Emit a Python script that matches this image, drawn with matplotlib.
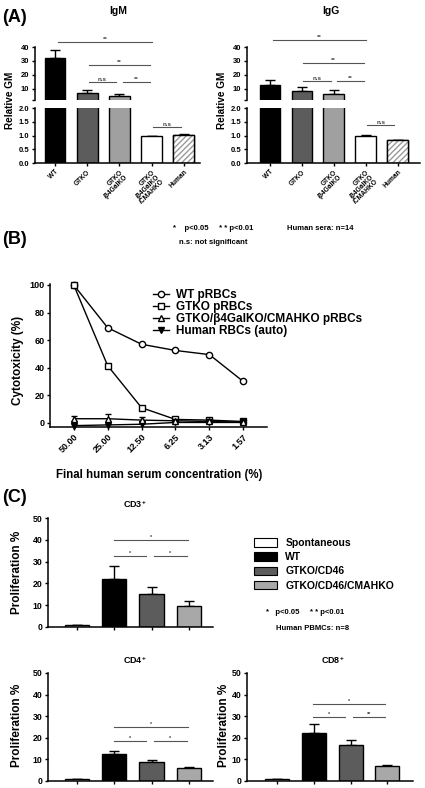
import matplotlib
matplotlib.use('Agg')
import matplotlib.pyplot as plt
from matplotlib.patches import Patch
from matplotlib.lines import Line2D
import numpy as np

plt.rcParams['font.family'] = ['Liberation Sans', 'DejaVu Sans']
plt.rcParams['font.weight'] = 'bold'
plt.rcParams['mathtext.default'] = 'regular'
plt.rcParams['axes.linewidth'] = 1.1
plt.rcParams['xtick.major.width'] = 1.0
plt.rcParams['ytick.major.width'] = 1.0
plt.rcParams['xtick.major.size'] = 2.5
plt.rcParams['ytick.major.size'] = 2.5

# ---- data ----
# panel A
groups_a = ['WT', 'GTKO', 'GTKO\n/β4GalKO', 'GTKO\n/β4GalKO\n/CMAHKO', 'Human']
igm_mean = [32, 7, 5, 0.97, 1.02]
igm_err = [6, 2, 1.2, 0.02, 0.02]
igg_mean = [13, 8.5, 6.5, 1.0, 0.83]
igg_err = [3.2, 3, 2.5, 0.02, 0.02]

# panel B
conc_labels = ['50.00', '25.00', '12.50', '6.25', '3.13', '1.57']
wt_cyto = [100, 69, 57, 52.5, 49.5, 30]
gtko_cyto = [100, 41.5, 11, 2.5, 2, 1]
tko_cyto = [3, 3, 2, 1.5, 1, 0.5]
tko_err = [2, 3.5, 2, 0.8, 0.5, 0.5]
human_cyto = [-2, -1.5, -1, 0.3, 0.3, 0.3]

# panel C
groups_c = ['Spontaneous', 'WT', 'GTKO/CD46', 'GTKO/CD46/CMAHKO']
cd3_mean = [0.8, 22, 15, 9.5]
cd3_err = [0.2, 6, 3.5, 2.5]
cd4_mean = [0.7, 12.3, 8.7, 5.8]
cd4_err = [0.1, 1.7, 1.2, 0.5]
cd8_mean = [0.7, 22, 16.8, 6.8]
cd8_err = [0.1, 4.5, 2.2, 0.8]

W, H = 425, 788


def box(x0, y0, x1, y1):
    return [x0 / W, 1 - y1 / H, (x1 - x0) / W, (y1 - y0) / H]


def style(ax, ls=6):
    ax.spines['top'].set_visible(False)
    ax.spines['right'].set_visible(False)
    ax.tick_params(labelsize=ls, pad=1.5)


def sig(ax, x0, x1, y, txt, fs=4.5):
    ax.plot([x0, x1], [y, y], color='#555555', lw=0.8, clip_on=False)
    ax.text((x0 + x1) / 2, y, txt, ha='center', va='bottom', fontsize=fs,
            color='#444444', clip_on=False)


def bars(ax, x, means, errs, faces, hatch_idx=None, keep=None):
    x = np.asarray(x)
    means = np.asarray(means)
    errs = np.asarray(errs)
    faces = np.asarray(faces)
    if keep is None:
        keep = np.ones(len(x), bool)
    ax.bar(x[keep], means[keep], 0.65, color=faces[keep], edgecolor='black', lw=1, zorder=2)
    if hatch_idx is not None and keep[hatch_idx]:
        ax.bar(x[hatch_idx], means[hatch_idx], 0.65, facecolor='white',
               edgecolor='#9a9a9a', hatch='//////', lw=0, zorder=2)
        ax.bar(x[hatch_idx], means[hatch_idx], 0.65, fill=False,
               edgecolor='black', lw=1, zorder=3)
    ax.errorbar(x[keep], means[keep], yerr=[np.zeros(keep.sum()), errs[keep]], fmt='none',
                ecolor='black', capsize=3.5, elinewidth=1, capthick=1, zorder=1)


fig = plt.figure(figsize=(W / 100, H / 100), dpi=100)

# ---- panel A ----
faces_a = ['black', '#5c5c5c', '#a0a0a0', 'white', 'white']
xa = np.arange(5)
specs = [
    (igm_mean, igm_err, (35, 200), (-0.62, 4.5), 'IgM', 118,
     [(0.1, 3.0, 43.6, '**'), (1.05, 2.95, 27, '**'), (1.05, 1.9, 15, 'n.s'), (2.1, 2.95, 15, '**')],
     1.3, 10),
    (igg_mean, igg_err, (247, 420), (-0.72, 4.7), 'IgG', 331,
     [(0.1, 3.0, 45, '**'), (1.05, 2.95, 28.6, '**'), (1.05, 1.9, 15.7, 'n.s'), (2.1, 2.95, 15.7, '**')],
     1.38, 222),
]
for means, errs, (px0, px1), xl, title, tx, sigs, ns_y, lab_x in specs:
    ax_t = fig.add_axes(box(px0, 47, px1, 100))
    ax_b = fig.add_axes(box(px0, 108, px1, 163))
    style(ax_t, 5.5)
    style(ax_b, 5.5)
    bars(ax_t, xa, means, errs, faces_a, hatch_idx=4, keep=np.array(means) > 2)
    bars(ax_b, xa, means, errs, faces_a, hatch_idx=4)
    for ax in (ax_t, ax_b):
        ax.set_xlim(*xl)
    ax_t.set_ylim(2, 40)
    ax_t.spines['bottom'].set_visible(False)
    ax_t.set_xticks([])
    ax_t.set_yticks([2, 10, 20, 30, 40])
    ax_t.set_yticklabels(['', '10', '20', '30', '40'])
    ax_b.set_ylim(0, 2)
    ax_b.set_yticks([0, 0.5, 1.0, 1.5, 2.0])
    ax_b.set_yticklabels(['0.0', '0.5', '1.0', '1.5', '2.0'])
    ax_b.set_xticks(xa)
    ax_b.set_xticklabels(groups_a, rotation=45, ha='right', va='top',
                         rotation_mode='anchor', fontsize=4.8, linespacing=0.95)
    for a, b, y, t in sigs:
        sig(ax_t, a, b, y, t)
    sig(ax_b, 3.05, 3.9, ns_y, 'n.s')
    fig.text(tx / W, 1 - 11 / H, title, ha='center', va='center', fontsize=7.5)
    fig.text(lab_x / W, 1 - 100 / H, 'Relative GM', rotation=90, ha='center',
             va='center', fontsize=7.2)

fig.text(2 / W, 1 - 18 / H, '(A)', fontsize=13, va='center')
fig.text(213 / W, 1 - 228 / H, '*    p<0.05     * * p<0.01', ha='center', va='center', fontsize=5.5)
fig.text(320 / W, 1 - 228 / H, 'Human sera: n=14', ha='center', va='center', fontsize=5.5)
fig.text(213 / W, 1 - 243 / H, 'n.s: not significant', ha='center', va='center', fontsize=5.5)

# ---- panel B ----
fig.text(2 / W, 1 - 240 / H, '(B)', fontsize=13, va='center')
axb = fig.add_axes(box(50, 284, 267, 427))
style(axb, 6.5)
xb = np.arange(6)
mk = dict(color='black', lw=1, ms=4.5, mew=1, clip_on=False)
axb.plot(xb, wt_cyto, marker='o', mfc='white', **mk)
axb.plot(xb, gtko_cyto, marker='s', mfc='white', **mk)
axb.errorbar(xb, tko_cyto, yerr=tko_err, marker='^', mfc='white', capsize=2.5,
             elinewidth=0.8, **mk)
axb.plot(xb, human_cyto, marker='v', mfc='black', **mk)
axb.set_ylim(-3, 100.7)
axb.set_xlim(-0.7, 5.7)
axb.set_yticks([0, 20, 40, 60, 80, 100])
axb.set_xticks(xb)
axb.set_xticklabels(conc_labels, rotation=45, ha='right', va='top', rotation_mode='anchor')
fig.text(18 / W, 1 - 360 / H, 'Cytotoxicity (%)', rotation=90, ha='center', va='center', fontsize=8.5)
fig.text(159 / W, 1 - 475 / H, 'Final human serum concentration (%)', ha='center', va='center', fontsize=8.3)
leg_b = [
    Line2D([], [], color='black', lw=1, marker='o', mfc='white', ms=4.5, mew=1),
    Line2D([], [], color='black', lw=1, marker='s', mfc='white', ms=4.5, mew=1),
    Line2D([], [], color='black', lw=1, marker='^', mfc='white', ms=4.5, mew=1),
    Line2D([], [], color='black', lw=1, marker='v', mfc='black', ms=4.5, mew=1),
]
fig.legend(leg_b, ['WT pRBCs', 'GTKO pRBCs', 'GTKO/β4GalKO/CMAHKO pRBCs', 'Human RBCs (auto)'],
           loc='upper left', bbox_to_anchor=(148 / W, 1 - 284 / H), frameon=False,
           fontsize=8.5, handlelength=1.4, labelspacing=0.02, borderaxespad=0, handletextpad=0.6)

# ---- panel C ----
fig.text(2 / W, 1 - 497 / H, '(C)', fontsize=13, va='center')
faces_c = ['white', 'black', '#5c5c5c', '#a8a8a8']
xc = np.arange(4)
cspecs = [
    (cd3_mean, cd3_err, (48, 518, 213, 627), (-0.78, 3.65), 'CD3$^{+}$', 135, 504,
     [(1.0, 2.97, 40, '*'), (1.0, 1.84, 32.5, '*'), (2.06, 2.95, 32.5, '*')], 17, 572),
    (cd4_mean, cd4_err, (48, 673, 213, 781), (-0.78, 3.65), 'CD4$^{+}$', 135, 660,
     [(1.0, 2.97, 25, '*'), (1.0, 1.84, 18.5, '*'), (2.06, 2.95, 18.5, '*')], 17, 725),
    (cd8_mean, cd8_err, (247, 673, 413, 781), (-0.82, 3.7), 'CD8$^{+}$', 333, 660,
     [(0.97, 2.95, 35.5, '*'), (0.97, 1.84, 29.5, '*'), (2.06, 2.95, 29.5, '**')], 224, 725),
]
for means, errs, bx, xl, title, tx, ty, sigs, lab_x, lab_y in cspecs:
    ax = fig.add_axes(box(*bx))
    style(ax, 6.3)
    bars(ax, xc, means, errs, faces_c)
    ax.set_xlim(*xl)
    ax.set_ylim(0, 50)
    ax.set_yticks([0, 10, 20, 30, 40, 50])
    ax.set_xticks(xc)
    ax.set_xticklabels([])
    for a, b, y, t in sigs:
        sig(ax, a, b, y, t, fs=4)
    fig.text(tx / W, 1 - ty / H, title, ha='center', va='center', fontsize=6.5)
    fig.text(lab_x / W, 1 - lab_y / H, 'Proliferation %', rotation=90, ha='center',
             va='center', fontsize=8.5)

handles = [Patch(facecolor=c, edgecolor='black', lw=0.8) for c in faces_c]
fig.legend(handles, groups_c, loc='upper left', bbox_to_anchor=(250 / W, 1 - 534 / H),
           frameon=False, fontsize=7.5, handlelength=2.2, handleheight=0.9,
           labelspacing=0.4, borderaxespad=0, handletextpad=0.8)
fig.text(305 / W, 1 - 612 / H, '*   p<0.05     * * p<0.01', ha='center', va='center', fontsize=5.5)
fig.text(313 / W, 1 - 629 / H, 'Human PBMCs: n=8', ha='center', va='center', fontsize=5.5)

fig.savefig('out.png', dpi=100)
